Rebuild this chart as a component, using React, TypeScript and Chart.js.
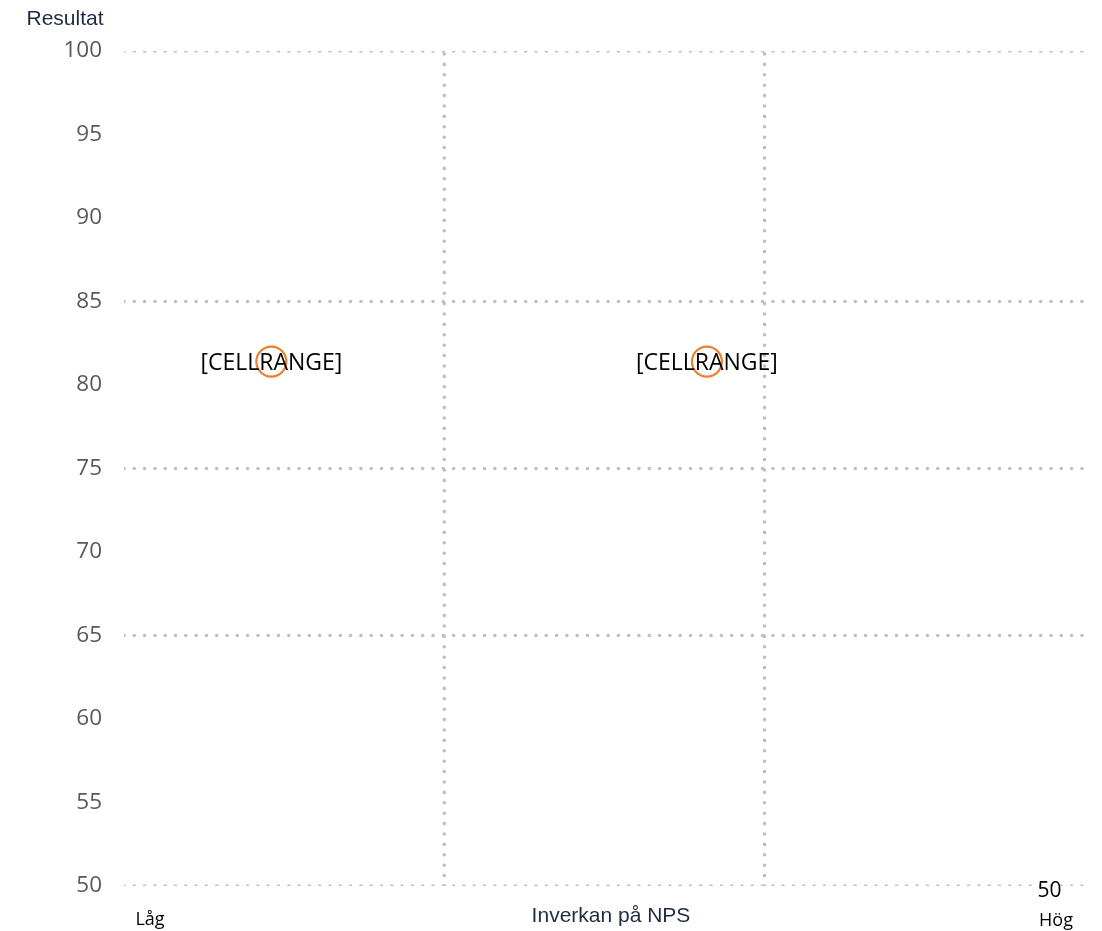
import React, { useEffect, useRef } from "react";
import { Chart, registerables } from "chart.js";
Chart.register(...registerables);

const pointLabels = ["[CELLRANGE]", "[CELLRANGE]"];
const pointX = [0.46, 1.82];
const pointY = [81.4, 81.4];
const extraLabel = "50";
const extraX = [2.89];
const extraY = [50];
const hLines = [50, 65, 75, 85, 100];
const vLines = [1, 2];
const xMin = 0;
const xMax = 3;
const yMin = 50;
const yMax = 100;
const yStep = 5;

const GRID = "#BFBFBF";
const ORANGE = "#ED7D31";

export default function App() {
  const ref = useRef<HTMLCanvasElement>(null);
  useEffect(() => {
    if (!ref.current) return;
    const lineSets: any[] = [];
    hLines.forEach((v) =>
      lineSets.push({
        type: "line",
        data: [
          { x: xMin, y: v },
          { x: xMax, y: v },
        ],
        borderColor: GRID,
        borderWidth: 3.6,
        borderDash: [0, 10.3],
        borderCapStyle: "round",
        pointRadius: 0,
        fill: false,
      })
    );
    vLines.forEach((v) =>
      lineSets.push({
        type: "line",
        data: [
          { x: v, y: yMin },
          { x: v, y: yMax },
        ],
        borderColor: GRID,
        borderWidth: 3.6,
        borderDash: [0, 10.4],
        borderCapStyle: "round",
        pointRadius: 0,
        fill: false,
      })
    );
    const textPlugin = {
      id: "texts",
      afterDatasetsDraw(chart: any) {
        const ctx = chart.ctx;
        const xs = chart.scales.x;
        const ys = chart.scales.y;
        ctx.save();
        ctx.textAlign = "center";
        ctx.textBaseline = "middle";
        ctx.fillStyle = "#000000";
        ctx.font = "23px 'Open Sans', 'Liberation Sans', sans-serif";
        pointX.forEach((x, i) => {
          ctx.fillText(pointLabels[i], xs.getPixelForValue(x), ys.getPixelForValue(pointY[i]) + 2);
        });
        ctx.textBaseline = "alphabetic";
        ctx.font = "21px 'Open Sans', 'Liberation Sans', sans-serif";
        extraX.forEach((x, i) => {
          ctx.fillText(extraLabel, xs.getPixelForValue(x), ys.getPixelForValue(extraY[i]) + 11);
        });
        // axis titles
        ctx.fillStyle = "#1F2A44";
        ctx.font = "21px 'Liberation Sans', Arial, sans-serif";
        ctx.fillText("Resultat", 65, 25);
        ctx.fillText("Inverkan på NPS", 611, 922);
        ctx.fillStyle = "#000000";
        ctx.font = "18px 'Open Sans', 'Liberation Sans', sans-serif";
        ctx.fillText("Låg", 150, 925);
        ctx.fillText("Hög", 1056, 926);
        ctx.restore();
      },
    };
    const chart = new Chart(ref.current, {
      type: "scatter",
      data: {
        datasets: [
          ...lineSets,
          {
            type: "scatter",
            data: pointX.map((x, i) => ({ x, y: pointY[i] })),
            pointRadius: 15,
            pointBorderWidth: 2.2,
            pointBorderColor: ORANGE,
            pointBackgroundColor: "rgba(0,0,0,0)",
            borderColor: ORANGE,
          },
        ],
      },
      options: {
        animation: false,
        responsive: false,
        maintainAspectRatio: false,
        layout: { padding: { top: 51, bottom: 45, right: 16, left: 0 } },
        plugins: { legend: { display: false }, tooltip: { enabled: false } },
        scales: {
          x: {
            type: "linear",
            min: xMin,
            max: xMax,
            display: false,
          },
          y: {
            type: "linear",
            min: yMin,
            max: yMax,
            afterFit: (s: any) => {
              s.width = 124;
            },
            grid: { display: false, drawTicks: false },
            border: { display: false },
            ticks: {
              stepSize: yStep,
              padding: 22,
              color: "#595959",
              font: { size: 22.5, family: "'Open Sans', 'Liberation Sans', sans-serif" },
            },
          },
        },
      },
      plugins: [textPlugin],
    } as any);
    return () => chart.destroy();
  }, []);
  return (
    <div style={{ position: "fixed", left: 0, top: 0, width: 1102, height: 931, background: "#fff" }}>
      <canvas ref={ref} width={1102} height={931} style={{ width: 1102, height: 931 }} />
    </div>
  );
}
